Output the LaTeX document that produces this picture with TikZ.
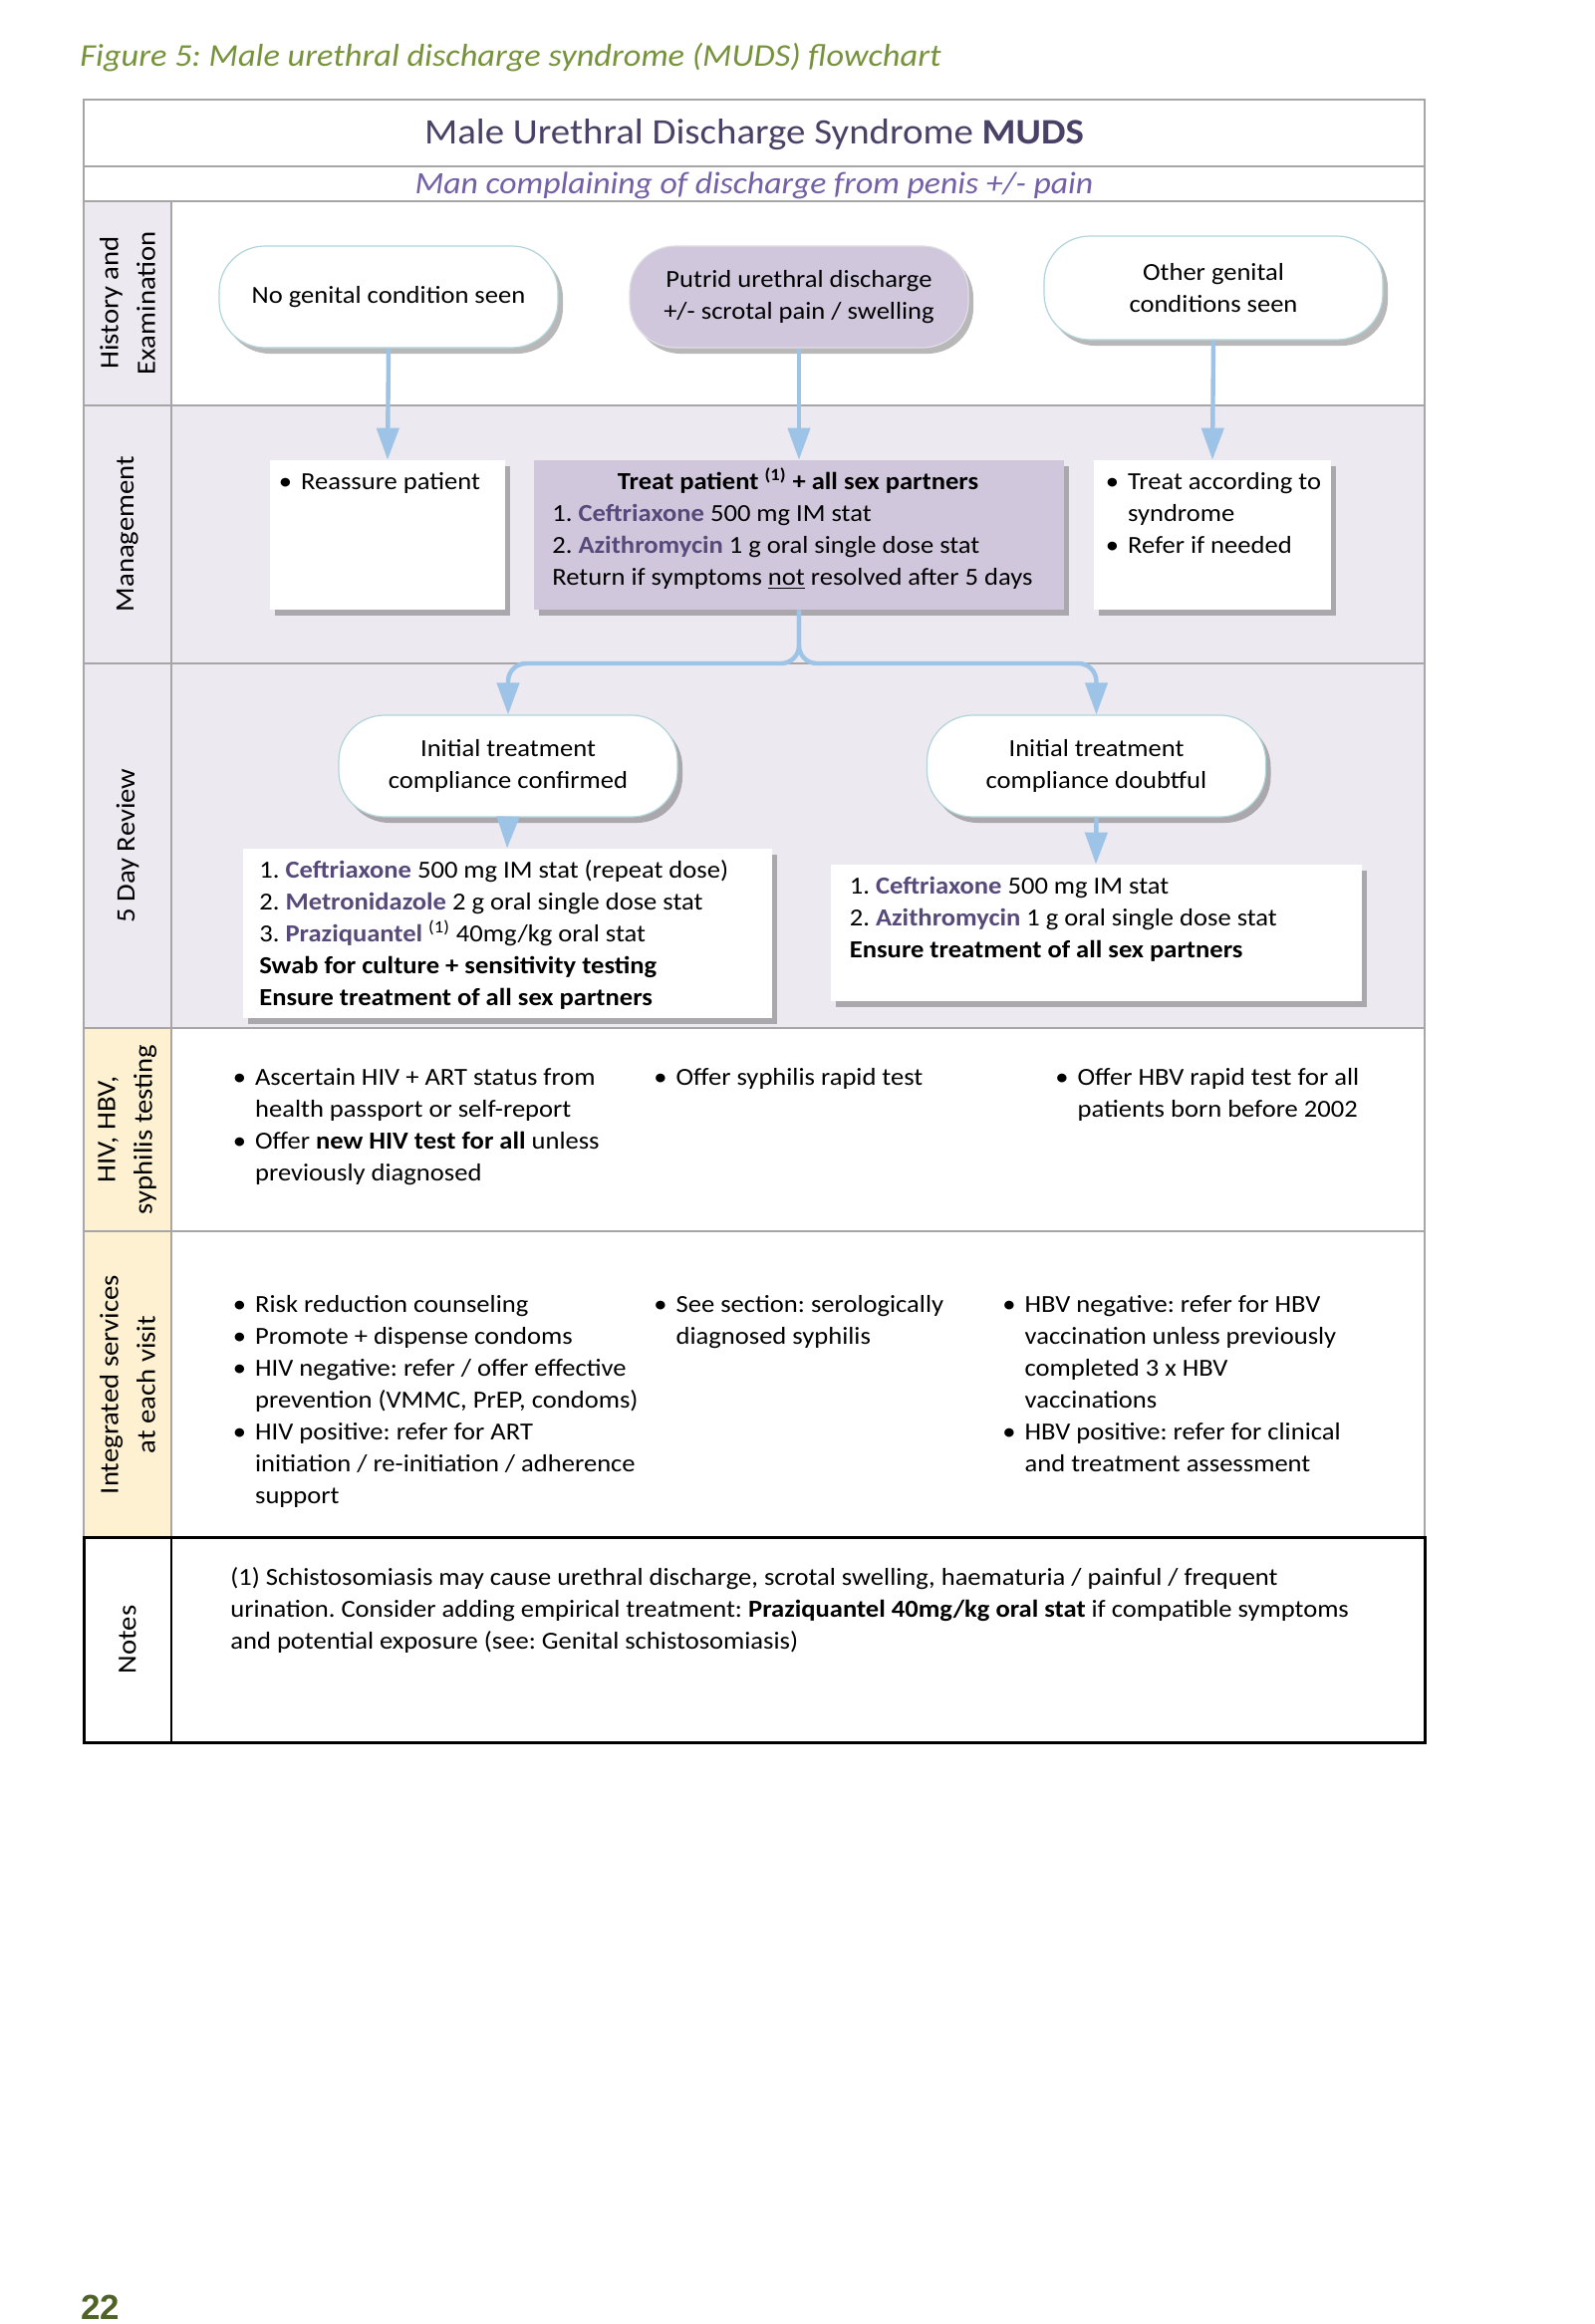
\documentclass[tikz,border=0pt]{standalone}
\usepackage{fontspec}
\setmainfont{Carlito}[FakeStretch=1.08]
\newfontfamily\pagenumfont{Liberation Sans}
\usetikzlibrary{shadows,arrows.meta}
\definecolor{lanegray}{HTML}{A6A6A6}
\definecolor{lanebg}{HTML}{ECE9F1}
\definecolor{laneyellow}{HTML}{FDF1D2}
\definecolor{treatfill}{HTML}{D0C7DD}
\definecolor{connblue}{HTML}{9DC3E6}
\definecolor{drugcol}{HTML}{574A7A}
\definecolor{titlecol}{HTML}{4A4266}
\definecolor{subcol}{HTML}{7460A6}
\definecolor{capgreen}{HTML}{76933C}
\definecolor{pagegreen}{HTML}{4F6228}
\definecolor{nodeborder}{HTML}{B0D4D9}
\frenchspacing
\newcommand{\drug}[1]{\textbf{\textcolor{drugcol}{#1}}}
\newcommand{\bodyfont}{\fontsize{12.3}{16}\selectfont}
\newcommand{\bl}{\textbullet}
\newenvironment{btab}{\begin{tabular}[t]{@{}l@{\hspace{4.5pt}}l@{}}}{\end{tabular}}
\newenvironment{ptab}{\begin{tabular}[t]{@{}l@{}}}{\end{tabular}}
\begin{document}
\begin{tikzpicture}[x=0.5pt,y=-0.5pt,
  lane/.style={draw=lanegray,line width=1.2pt},
  softshadow/.style={drop shadow={shadow xshift=2.5pt,shadow yshift=-3pt,opacity=0.28,fill=black}},
  pill/.style={draw=nodeborder,line width=0.6pt,fill=white,rounded corners=23pt,
    minimum width=170pt,minimum height=51pt,align=center,font=\bodyfont,inner sep=0pt,softshadow},
  card/.style={fill=white,inner sep=0pt,softshadow},
  txt/.style={anchor=base west,inner sep=0pt,font=\bodyfont},
  conn/.style={draw=connblue,line width=2.2pt,-{Triangle[length=16pt,width=11pt]}},
  lanelabel/.style={rotate=90,align=center,inner sep=0pt,font=\fontsize{13.3}{18.5}\selectfont},
]
\useasboundingbox (0,0) rectangle (1600,2333);

% ---------- lane backgrounds ----------
\fill[white] (84,100) rectangle (1430,1749);
\fill[lanebg] (84,202) rectangle (172,407);
\fill[lanebg] (84,407) rectangle (1430,1032);
\fill[laneyellow] (84,1032) rectangle (172,1543);

% ---------- lane lines ----------
\draw[lane] (84,100) rectangle (1430,1543);
\draw[lane] (84,167) -- (1430,167);
\draw[lane] (84,202) -- (1430,202);
\draw[lane] (84,407) -- (1430,407);
\draw[lane] (84,666) -- (1430,666);
\draw[lane] (84,1032) -- (1430,1032);
\draw[lane] (84,1236) -- (1430,1236);
\draw[lane] (172,202) -- (172,1543);
\draw[black,line width=1.5pt] (84,1543) rectangle (1430,1749);
\draw[black,line width=0.8pt] (172,1543) -- (172,1749);

% ---------- caption, title ----------
\node[anchor=base west,inner sep=0pt,font=\fontsize{15.9}{18}\selectfont\itshape,text=capgreen] (caption) at (80,67)
  {Figure 5: Male urethral discharge syndrome (MUDS) flowchart};
\node[anchor=base,inner sep=0pt,font=\fontsize{18}{22}\selectfont,text=titlecol] (title) at (757,145)
  {Male Urethral Discharge Syndrome \textbf{MUDS}};
\node[anchor=base,inner sep=0pt,font=\fontsize{15.6}{18}\selectfont\itshape,text=subcol] (subtitle) at (757,195)
  {Man complaining of discharge from penis +/- pain};

% ---------- lane labels ----------
\node[lanelabel] (lhist) at (128,304) {History and\\Examination};
\node[lanelabel] (lmgmt) at (128,536) {Management};
\node[lanelabel] (lrev) at (128,849) {5 Day Review};
\node[lanelabel] (lhiv) at (128,1134) {HIV, HBV,\\syphilis testing};
\node[lanelabel] (lint) at (128,1390) {Integrated services\\at each visit};
\node[lanelabel] (lnotes) at (128,1646) {Notes};

% ---------- history ----------
\node[pill] (n1) at (390,298) {No genital condition seen};
\node[pill,fill=treatfill,draw=treatfill!85!black!40!white] (n2) at (802,298) {Putrid urethral discharge\\+/- scrotal pain / swelling};
\node[pill,minimum height=52pt] (n3) at (1218,289) {Other genital\\conditions seen};

% ---------- management ----------
\node[card,minimum width=118pt,minimum height=75pt] (b1) at (389,537) {};
\node[card,fill=treatfill,minimum width=266pt,minimum height=75pt] (b2) at (802,537) {};
\node[card,minimum width=119pt,minimum height=75pt] (b3) at (1217,537) {};

\node[txt] (t1) at (279.5,491) {\begin{btab}\bl & Reassure patient\end{btab}};
\node[anchor=base,inner sep=0pt,font=\bodyfont] (t2a) at (801,491)
  {\textbf{Treat patient \textsuperscript{(1)} + all sex partners}};
\node[txt] (t2b) at (554,523) {\begin{ptab}
  1. \drug{Ceftriaxone} 500 mg IM stat\\
  2. \drug{Azithromycin} 1 g oral single dose stat\\
  Return if symptoms \underline{not} resolved after 5 days\end{ptab}};
\node[txt] (t3) at (1109.5,491) {\begin{btab}
  \bl & Treat according to\\
      & syndrome\\
  \bl & Refer if needed\end{btab}};

% ---------- 5 day review ----------
\node[pill] (n4) at (510,769) {Initial treatment\\compliance confirmed};
\node[pill] (n5) at (1100.5,769) {Initial treatment\\compliance doubtful};
\node[card,minimum width=265.5pt,minimum height=85pt] (b4) at (509,937) {};
\node[card,minimum width=266.5pt,minimum height=68.5pt] (b5) at (1100,936.5) {};

\node[txt] (t4) at (260,881) {\begin{ptab}
  1. \drug{Ceftriaxone} 500 mg IM stat (repeat dose)\\
  2. \drug{Metronidazole} 2 g oral single dose stat\\
  3. \drug{Praziquantel} \textsuperscript{(1)} 40mg/kg oral stat\\
  \textbf{Swab for culture + sensitivity testing}\\
  \textbf{Ensure treatment of all sex partners}\end{ptab}};
\node[txt] (t5) at (852.5,897) {\begin{ptab}
  1. \drug{Ceftriaxone} 500 mg IM stat\\
  2. \drug{Azithromycin} 1 g oral single dose stat\\
  \textbf{Ensure treatment of all sex partners}\end{ptab}};

% ---------- HIV, HBV, syphilis ----------
\node[txt] (h1) at (233.5,1089) {\begin{btab}
  \bl & Ascertain HIV + ART status from\\
      & health passport or self-report\\
  \bl & Offer \textbf{new HIV test for all} unless\\
      & previously diagnosed\end{btab}};
\node[txt] (h2) at (656,1089) {\begin{btab}\bl & Offer syphilis rapid test\end{btab}};
\node[txt] (h3) at (1059,1089) {\begin{btab}
  \bl & Offer HBV rapid test for all\\
      & patients born before 2002\end{btab}};

% ---------- integrated ----------
\node[txt] (i1) at (233.5,1317) {\begin{btab}
  \bl & Risk reduction counseling\\
  \bl & Promote + dispense condoms\\
  \bl & HIV negative: refer / offer effective\\
      & prevention (VMMC, PrEP, condoms)\\
  \bl & HIV positive: refer for ART\\
      & initiation / re-initiation / adherence\\
      & support\end{btab}};
\node[txt] (i2) at (656,1317) {\begin{btab}
  \bl & See section: serologically\\
      & diagnosed syphilis\end{btab}};
\node[txt] (i3) at (1006,1317) {\begin{btab}
  \bl & HBV negative: refer for HBV\\
      & vaccination unless previously\\
      & completed 3 x HBV\\
      & vaccinations\\
  \bl & HBV positive: refer for clinical\\
      & and treatment assessment\end{btab}};

% ---------- notes ----------
\node[txt] (notes) at (231,1591) {\begin{ptab}
  (1) Schistosomiasis may cause urethral discharge, scrotal swelling, haematuria / painful / frequent\\
  urination. Consider adding empirical treatment: \textbf{Praziquantel 40mg/kg oral stat} if compatible symptoms\\
  and potential exposure (see: Genital schistosomiasis)\end{ptab}};

% ---------- page number ----------
\node[anchor=base west,inner sep=0pt,font=\pagenumfont\bfseries\fontsize{17.5}{20}\selectfont,text=pagegreen] (pagenum) at (81,2328) {22};

% ---------- connectors ----------
\coordinate (split) at (802,666);
\draw[conn] (n1.south) -- (b1.north);
\draw[conn] (n2.south) -- (b2.north);
\draw[conn] (n3.south) -- (b3.north);
\draw[conn,rounded corners=9pt] (b2.south) -- (split) -| (n4.north);
\draw[conn,rounded corners=9pt] (b2.south) -- (split) -| (n5.north);
\draw[conn] (n4.south) -- (b4.north);
\draw[conn] (n5.south) -- (b5.north);
\end{tikzpicture}
\end{document}
